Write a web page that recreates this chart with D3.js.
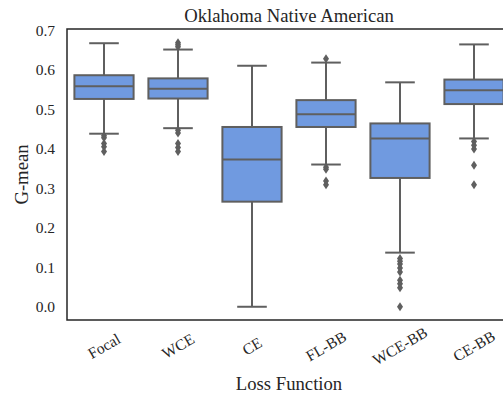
<!DOCTYPE html>
<html>
<head>
<meta charset="utf-8">
<script src="https://cdn.jsdelivr.net/npm/d3@7"></script>
<style>
  body { margin: 0; background: #fff; }
  text { font-family: "Liberation Serif", "Times New Roman", serif; fill: #262626; }
</style>
</head>
<body>
<div id="chart"></div>
<script>
let categories = ["Focal", "WCE", "CE", "FL-BB", "WCE-BB", "CE-BB"]

// box statistics
let whiskerLow = [0.438, 0.452, 0.0, 0.360, 0.137, 0.426]
let q1 = [0.526, 0.527, 0.266, 0.455, 0.326, 0.513]
let medians = [0.558, 0.552, 0.373, 0.487, 0.426, 0.548]
let q3 = [0.586, 0.578, 0.455, 0.523, 0.464, 0.575]
let whiskerHigh = [0.667, 0.651, 0.610, 0.618, 0.568, 0.664]
let fliers = [
    [0.433, 0.428, 0.413, 0.405, 0.393],
    [0.668, 0.663, 0.658, 0.447, 0.440, 0.413, 0.403, 0.393],
    [],
    [0.628, 0.353, 0.348, 0.318, 0.309],
    [0.122, 0.115, 0.108, 0.098, 0.088, 0.067, 0.058, 0.048, 0.0],
    [0.418, 0.409, 0.399, 0.358, 0.309]
]
let yTicks = [0.0, 0.1, 0.2, 0.3, 0.4, 0.5, 0.6, 0.7]

let width = 503
let height = 398
let margins = {top: 29, left: 67, bottom: 320, right: 511}

let boxFill = "#709ae0"
let lineGray = "#5f5f5f"

let svg = d3.select("#chart").append("svg")
    .attr("width", width)
    .attr("height", height)

let xScale = d3.scaleBand()
    .domain(categories)
    .range([margins.left, margins.right])
    .paddingInner(0.2)
    .paddingOuter(0.1)

let yScale = d3.scaleLinear()
    .domain([-0.0335, 0.703])
    .range([margins.bottom, margins.top])

// y axis labels, no tick marks
let yAxis = svg.append("g")
    .attr("transform", `translate(${margins.left},0)`)
    .call(d3.axisLeft(yScale).tickValues(yTicks).tickFormat(d3.format(".1f")).tickSize(0).tickPadding(12))
yAxis.select(".domain").remove()
yAxis.selectAll("text")
    .style("font-family", "'Liberation Serif', serif")
    .style("font-size", "15.5px")
    .attr("fill", "#262626")

let boxes = svg.append("g")
let bw = xScale.bandwidth()

categories.forEach((cat, i) => {
    let x0 = xScale(cat)
    let cx = x0 + bw / 2
    let g = boxes.append("g")

    // whiskers
    g.append("line")
        .attr("x1", cx).attr("x2", cx)
        .attr("y1", yScale(q3[i])).attr("y2", yScale(whiskerHigh[i]))
        .attr("stroke", lineGray).attr("stroke-width", 2)
    g.append("line")
        .attr("x1", cx).attr("x2", cx)
        .attr("y1", yScale(q1[i])).attr("y2", yScale(whiskerLow[i]))
        .attr("stroke", lineGray).attr("stroke-width", 2)
    // caps are half the box width
    for (let v of [whiskerLow[i], whiskerHigh[i]]) {
        g.append("line")
            .attr("x1", cx - bw / 4).attr("x2", cx + bw / 4)
            .attr("y1", yScale(v)).attr("y2", yScale(v))
            .attr("stroke", lineGray).attr("stroke-width", 2)
    }

    g.append("rect")
        .attr("x", x0)
        .attr("width", bw)
        .attr("y", yScale(q3[i]))
        .attr("height", yScale(q1[i]) - yScale(q3[i]))
        .attr("fill", boxFill)
        .attr("stroke", lineGray)
        .attr("stroke-width", 2)

    g.append("line")
        .attr("x1", x0).attr("x2", x0 + bw)
        .attr("y1", yScale(medians[i])).attr("y2", yScale(medians[i]))
        .attr("stroke", lineGray).attr("stroke-width", 2)

    // thin diamond fliers
    g.selectAll("path.flier")
        .data(fliers[i])
        .join("path")
        .attr("class", "flier")
        .attr("d", d => {
            let y = yScale(d)
            return `M${cx},${y - 4.5}L${cx + 3},${y}L${cx},${y + 4.5}L${cx - 3},${y}Z`
        })
        .attr("fill", lineGray)
})

// frame (right side falls outside the picture)
svg.append("path")
    .attr("d", `M${margins.right},${margins.top}H${margins.left}V${margins.bottom}H${margins.right}`)
    .attr("fill", "none")
    .attr("stroke", "#262626")
    .attr("stroke-width", 1.5)

// x tick labels, rotated
svg.append("g").selectAll("text")
    .data(categories)
    .join("text")
    .attr("transform", d => `translate(${xScale(d) + bw / 2},${346}) rotate(-30)`)
    .attr("text-anchor", "middle")
    .attr("dy", "0.35em")
    .style("font-size", "15.5px")
    .text(d => d)

let midX = (margins.left + margins.right) / 2

svg.append("text")
    .attr("x", midX)
    .attr("y", 22)
    .attr("text-anchor", "middle")
    .style("font-size", "18.7px")
    .text("Oklahoma Native American")

svg.append("text")
    .attr("x", midX)
    .attr("y", 390)
    .attr("text-anchor", "middle")
    .style("font-size", "18.7px")
    .text("Loss Function")

svg.append("text")
    .attr("transform", `translate(28,${(margins.top + margins.bottom) / 2}) rotate(-90)`)
    .attr("text-anchor", "middle")
    .style("font-size", "18.7px")
    .text("G-mean")
</script>
</body>
</html>
